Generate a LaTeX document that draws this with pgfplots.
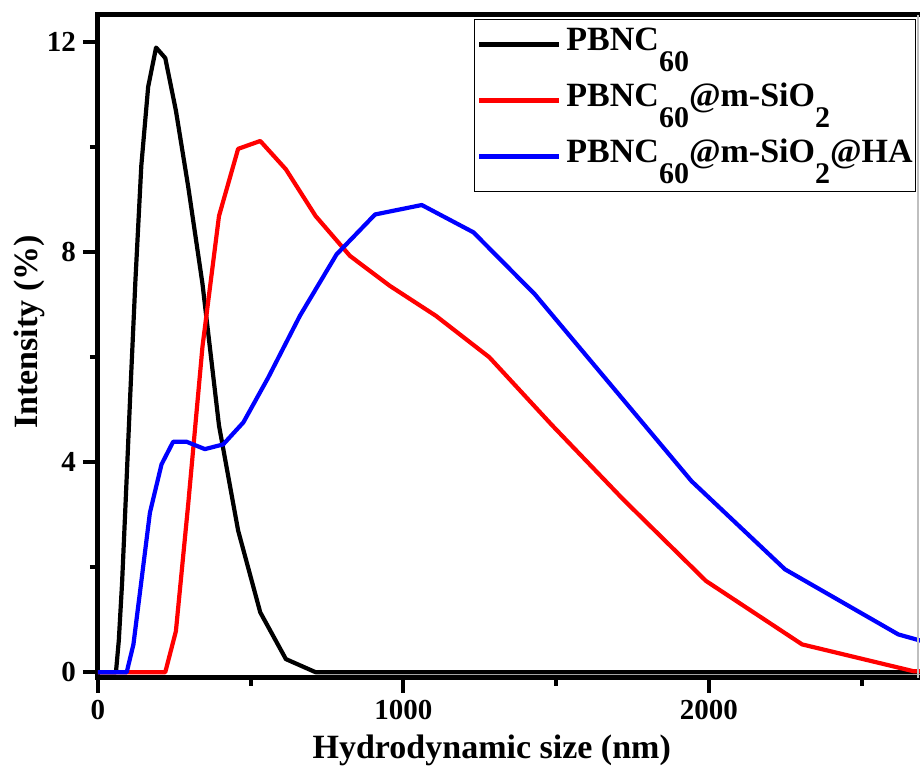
\documentclass[border=0pt]{standalone}
\usepackage{fontspec}
\setmainfont{Liberation Serif}
\usepackage{pgfplots}
\pgfplotsset{compat=1.18}
\usetikzlibrary{calc}

\newcommand{\sub}[1]{\raisebox{-0.62em}{\fontsize{15}{15}\selectfont #1}}

\begin{document}
\begin{tikzpicture}
\begin{axis}[
  name=ax,
  scale only axis,
  width=411pt, height=331.5pt,
  xmin=0, xmax=2691, ymin=-0.11, ymax=12.52,
  axis lines*=left,
  axis line style={line width=2.5pt, line cap=rect},
  clip mode=individual,
  xtick={0,1000,2000}, minor xtick={500,1500,2500},
  ytick={0,4,8,12}, minor ytick={2,6,10},
  tick align=outside,
  major tick length=7.5pt, minor tick length=4pt,
  every tick/.style={line width=2pt, black},
  ticklabel style={font=\fontsize{14.5}{14.5}\selectfont\bfseries},
  /pgf/number format/assume math mode=true,
  /pgf/number format/1000 sep={},
  scaled x ticks=false,
  label style={font=\fontsize{17}{17}\selectfont\bfseries},
  xlabel={Hydrodynamic size (nm)},
  ylabel={Intensity (\%)},
  xlabel style={at={(axis description cs:0.479,-0.122)}, anchor=base},
  ylabel style={at={(axis description cs:-0.0742,0.522)}, anchor=base},
  legend style={at={(axis description cs:0.457,0.994)}, anchor=north west,
    draw=black, line width=0.6pt, inner xsep=1.5pt, inner ysep=4pt,
    font=\fontsize{17}{17}\selectfont\bfseries,
    nodes={inner sep=0pt, text height=11.5pt, text depth=10.5pt},
    row sep=6pt,
    /tikz/every odd column/.append style={column sep=2.5pt}},
  legend cell align=left,
  legend image code/.code={\draw[#1] (0pt,2.5pt) -- (40pt,2.5pt);},
  every axis plot/.append style={line width=2.1pt, line join=round},
]
\addplot[black] coordinates {
  (0,0)(58.77,0)(68.06,0.6)(78.82,1.7)(91.28,3.35)(105.7,5.3)(122.4,7.45)
  (141.8,9.65)(164.2,11.15)(190.1,11.9)(220.2,11.7)(255,10.7)(295.3,9.25)
  (342,7.4)(396.1,4.7)(458.7,2.7)(531.2,1.14)(615.1,0.25)(712.4,0)(2691,0)
};
\addlegendentry{PBNC\sub{60}}
\addplot[red] coordinates {
  (0,0)(190.1,0)(220.2,0)(255,0.78)(295.3,3.2)(342,6.2)(396.1,8.69)
  (458.7,9.97)(531.2,10.12)(615.1,9.58)(712.4,8.69)(825,7.93)(955.4,7.36)
  (1106,6.79)(1281,6.0)(1484,4.72)(1718,3.3)(1990,1.74)(2305,0.53)
  (2669,0.02)(3091,0)
};
\addlegendentry{PBNC\sub{60}@m-SiO\sub{2}}
\addplot[blue] coordinates {
  (0,0)(94,0)(116,0.53)(170,3.04)(208,3.96)(246,4.39)(290,4.39)(350,4.25)
  (410,4.34)(476,4.76)(557,5.61)(661,6.79)(781,7.96)(907,8.72)(1060,8.9)
  (1229,8.38)(1430,7.2)(1943,3.64)(2249,1.96)(2620,0.72)(2700,0.59)
};
\addlegendentry{PBNC\sub{60}@m-SiO\sub{2}@HA}
\draw[line width=2.5pt, line cap=rect] (rel axis cs:0,1) -- (rel axis cs:1,1);
\draw[gray!50, line width=0.6pt] ([xshift=-1pt]rel axis cs:1,0) -- ([xshift=-1pt]rel axis cs:1,1);
\end{axis}
\pgfresetboundingbox
\useasboundingbox ($(ax.south west)+(-49pt,-45.5pt)$) rectangle ($(ax.north east)+(0pt,7.5pt)$);
\end{tikzpicture}
\end{document}
